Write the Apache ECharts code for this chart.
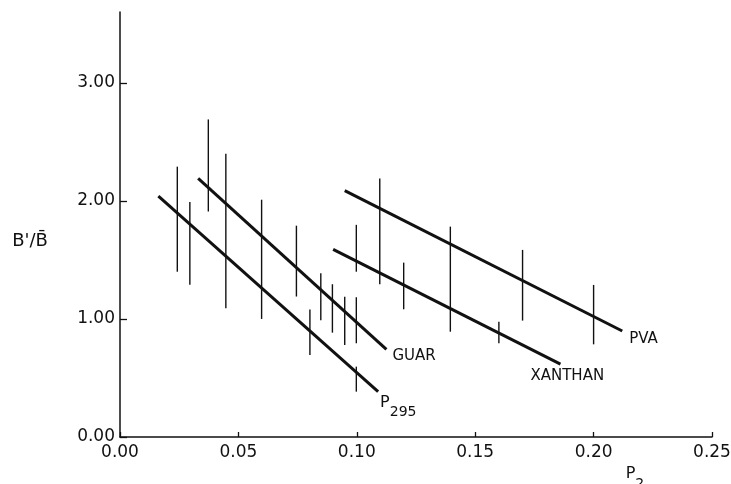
<!DOCTYPE html>
<html>
<head>
<meta charset="utf-8">
<script src="https://cdn.jsdelivr.net/npm/echarts@6/dist/echarts.min.js"></script>
<style>html,body{margin:0;padding:0;background:#fff;}#c{width:731px;height:484px;}</style>
</head>
<body>
<div id="c"></div>
<script>
// Tick labels
var xTicks = [0, 0.05, 0.10, 0.15, 0.20, 0.25];
var yTicks = [0, 1, 2, 3];

// Fitted lines (endpoints)
var p295Line = [[0.0162, 2.04], [0.109, 0.384]];
var guarLine = [[0.033, 2.19], [0.1125, 0.743]];
var xanthanLine = [[0.090, 1.59], [0.186, 0.618]];
var pvaLine = [[0.0949, 2.087], [0.2121, 0.898]];

// Error bars: x, low, high
var p295BarX = [0.0242, 0.0295, 0.0447, 0.0598, 0.0802, 0.0998];
var p295BarLow = [1.40, 1.29, 1.09, 1.00, 0.695, 0.384];
var p295BarHigh = [2.29, 1.99, 2.40, 2.01, 1.08, 0.596];

var guarBarX = [0.0373, 0.0745, 0.0848, 0.0897, 0.0949, 0.0998];
var guarBarLow = [1.91, 1.19, 0.99, 0.884, 0.78, 0.794];
var guarBarHigh = [2.69, 1.79, 1.387, 1.294, 1.189, 1.184];

var xanthanBarX = [0.0998, 0.1198, 0.160];
var xanthanBarLow = [1.40, 1.082, 0.794];
var xanthanBarHigh = [1.797, 1.477, 0.977];

var pvaBarX = [0.1097, 0.1395, 0.170, 0.200];
var pvaBarLow = [1.294, 0.892, 0.986, 0.785];
var pvaBarHigh = [2.19, 1.782, 1.585, 1.288];

var FONT = 'DejaVu Sans';
var INK = '#111';

function barData(xs, lo, hi) {
  return xs.map(function (x, i) { return [x, lo[i], hi[i]]; });
}
function barSeries(name, xs, lo, hi) {
  return {
    name: name + ' bars',
    type: 'custom',
    data: barData(xs, lo, hi),
    encode: { x: 0, y: [1, 2] },
    renderItem: function (params, api) {
      var a = api.coord([api.value(0), api.value(1)]);
      var b = api.coord([api.value(0), api.value(2)]);
      return {
        type: 'line',
        shape: { x1: a[0], y1: a[1], x2: b[0], y2: b[1] },
        style: { stroke: INK, lineWidth: 1.4 }
      };
    },
    silent: true
  };
}
function lineSeries(name, pts, labelText, offset, rich) {
  var s = {
    name: name,
    type: 'line',
    data: pts,
    symbol: 'none',
    lineStyle: { color: INK, width: 3 },
    silent: true,
    endLabel: {
      show: true,
      formatter: labelText,
      distance: 0,
      offset: offset,
      color: INK,
      fontFamily: FONT,
      fontSize: 15
    }
  };
  if (rich) s.endLabel.rich = rich;
  return s;
}

var subRich = {
  p: { fontFamily: FONT, fontSize: 16, color: INK, lineHeight: 14, verticalAlign: 'top' },
  s: { fontFamily: FONT, fontSize: 14, color: INK, lineHeight: 36 }
};

var chart = echarts.init(document.getElementById('c'), null, { renderer: 'canvas' });
chart.setOption({
  animation: false,
  backgroundColor: '#fff',
  grid: { left: 120, right: 19, top: 12, bottom: 47, containLabel: false, outerBoundsMode: 'none' },
  xAxis: {
    type: 'value',
    min: 0, max: 0.25, interval: 0.05,
    name: '{p|P}{s|2}',
    nameLocation: 'end',
    nameGap: -77,
    nameTextStyle: { align: 'center', verticalAlign: 'top', padding: [29, 0, 0, 0], rich: subRich },
    axisLine: { show: true, lineStyle: { color: INK, width: 1.5 } },
    axisTick: { show: true, inside: true, length: 5, lineStyle: { color: INK, width: 1.3 }, customValues: xTicks },
    axisLabel: { customValues: xTicks, formatter: function (v) { return v.toFixed(2); }, color: INK, fontFamily: FONT, fontSize: 17, margin: 7 },
    splitLine: { show: false }
  },
  yAxis: {
    type: 'value',
    min: 0, max: 3.6, interval: 1,
    name: "B'/B\u0304",
    nameLocation: 'middle',
    nameRotate: 0,
    nameGap: 90,
    nameTextStyle: { align: 'center', verticalAlign: 'top', padding: [8, 0, 0, 0], color: INK, fontFamily: FONT, fontSize: 18 },
    axisLine: { show: true, lineStyle: { color: INK, width: 1.5 } },
    axisTick: { show: true, inside: true, length: 7, lineStyle: { color: INK, width: 1.3 }, customValues: yTicks },
    axisLabel: { customValues: yTicks, formatter: function (v) { return v.toFixed(2); }, color: INK, fontFamily: FONT, fontSize: 17, margin: 5 },
    splitLine: { show: false }
  },
  series: [
    barSeries('P295', p295BarX, p295BarLow, p295BarHigh),
    barSeries('GUAR', guarBarX, guarBarLow, guarBarHigh),
    barSeries('XANTHAN', xanthanBarX, xanthanBarLow, xanthanBarHigh),
    barSeries('PVA', pvaBarX, pvaBarLow, pvaBarHigh),
    lineSeries('P295', p295Line, '{p|P}{s|295}', [2, 21], subRich),
    lineSeries('GUAR', guarLine, 'GUAR', [6, 7]),
    lineSeries('XANTHAN', xanthanLine, 'XANTHAN', [-30, 12]),
    lineSeries('PVA', pvaLine, 'PVA', [7, 8])
  ]
});
</script>
</body>
</html>
